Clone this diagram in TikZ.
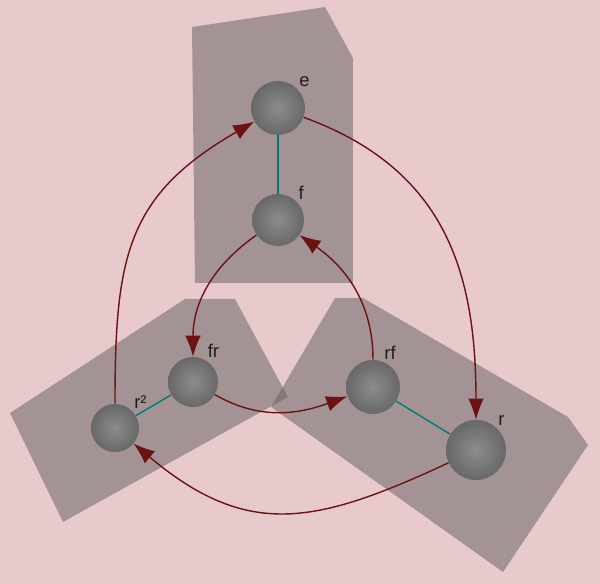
\documentclass[tikz,border=0pt]{standalone}
\usepackage{fontspec}
\setsansfont{Liberation Sans}
\usetikzlibrary{arrows.meta}
\definecolor{BgPink}{RGB}{232,202,204}
\definecolor{PanelGray}{RGB}{98,94,94}
\definecolor{BallIn}{RGB}{140,140,140}
\definecolor{BallOut}{RGB}{104,104,104}
\definecolor{LinkTeal}{RGB}{0,122,122}
\definecolor{ArrowRed}{RGB}{108,18,18}
\definecolor{LabelGray}{RGB}{30,30,30}
\tikzset{
	panel/.style={fill=PanelGray, fill opacity=0.5},
	elem/.style={circle, inner sep=0pt, minimum size=#1, shading=radial, inner color=BallIn, outer color=BallOut},
	lbl/.style={font=\sffamily\fontsize{10.5}{12}\selectfont, text=LabelGray, inner sep=1pt},
	link/.style={LinkTeal, line width=0.8pt},
	act/.style={ArrowRed, line width=0.8pt, -{Latex[length=12pt,width=9pt]}}
}

\begin{document}
\begin{tikzpicture}[x=0.02cm, y=-0.02cm]
		\fill[BgPink] (0,0) rectangle (600,584);
		\fill[panel] (192,27) -- (325,7) -- (353,58) -- (353,283) -- (195,283) -- cycle;
		\fill[panel] (10,413) -- (185,299) -- (235,299) -- (288,397) -- (63,522) -- cycle;
		\fill[panel] (335,298) -- (363,298) -- (568,417) -- (588,445) -- (503,572) -- (271,407) -- cycle;
		\node[elem=1.08cm, label={[lbl]45:e}] (e) at (278,108) {};
		\node[elem=1.04cm, label={[lbl]45:f}] (f) at (278,220) {};
		\node[elem=1.0cm, label={[lbl]60:fr}] (fr) at (193,382) {};
		\node[elem=0.96cm, label={[lbl]45:r²}] (r2) at (115,428) {};
		\node[elem=1.08cm, label={[lbl]70:rf}] (rf) at (373,387) {};
		\node[elem=1.2cm, label={[lbl]48:r}] (r) at (476,450) {};
		\draw[link] (e) -- (f);
		\draw[link] (fr) -- (r2);
		\draw[link] (rf) -- (r);
		\draw[act] (e) to[out=-20, in=90, looseness=1.1] (r);
		\draw[act] (r) to[out=205, in=-40, looseness=1.2] (r2);
		\draw[act] (r2) to[out=90, in=210, looseness=1.2] (e);
		\draw[act] (f) to[out=215, in=90] (fr);
		\draw[act] (fr) to[out=-30, in=200] (rf);
		\draw[act] (rf) to[out=90, in=-35] (f);
	\end{tikzpicture}
\end{document}
